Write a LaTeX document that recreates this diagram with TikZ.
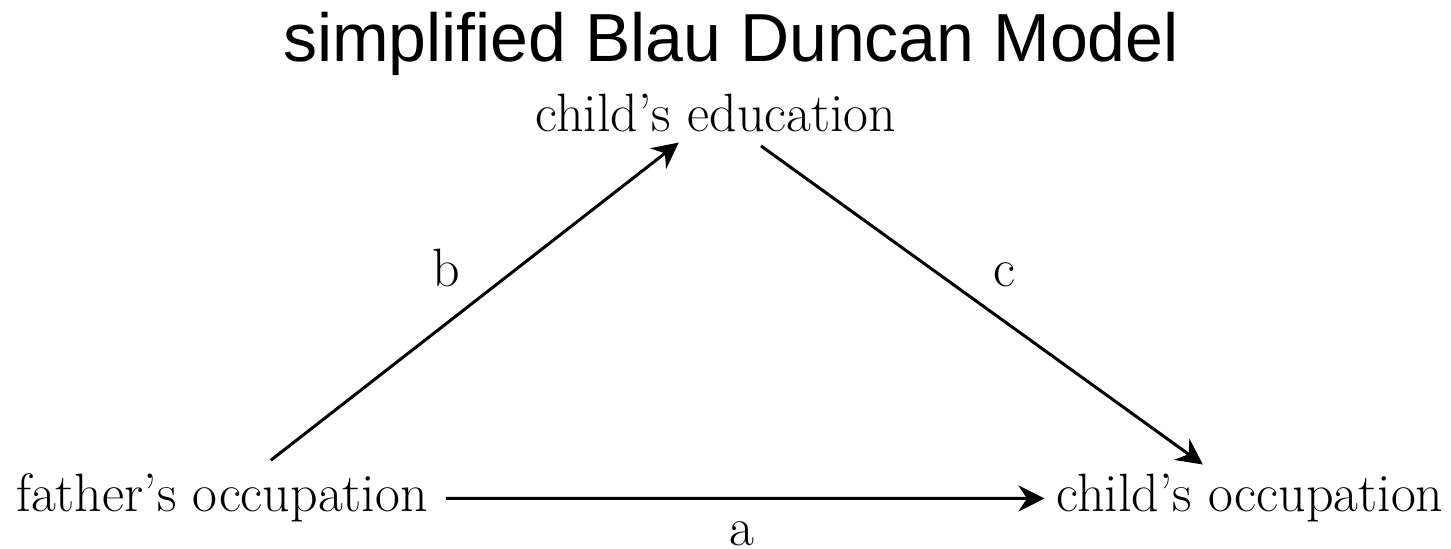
\documentclass[tikz,border=0pt]{standalone}
\usepackage{fontspec}
\newfontfamily\titlefont{Liberation Sans}
\usepackage{tikz}
\usetikzlibrary{arrows.meta}

\begin{document}
\begin{tikzpicture}[x=0.5pt,y=-0.5pt,
    var/.style={font=\fontsize{27}{32}\selectfont,anchor=base},
    path/.style={-{Stealth[length=13pt,width=13pt]},line width=1.5pt,shorten <=5.5pt,shorten >=2.5pt},
    coef/.style={font=\fontsize{27}{32}\selectfont}]
  \useasboundingbox (0,0) rectangle (1451,549);
  \node[font=\titlefont\fontsize{34}{40}\selectfont,anchor=base] (title) at (731,62) {simplified Blau Duncan Model};
  % the three variables
  \node[var] (father) at (222,512) {father's occupation};
  \node[var] (edu) at (716,132) {child's education};
  \node[var] (child) at (1250,512) {child's occupation};
  % paths
  \draw[path] (father) -- (edu) node[coef,midway,above left,xshift=-2pt,yshift=4pt] (b) {b};
  \draw[path] (edu) -- (child) node[coef,midway,above right,xshift=3pt,yshift=4pt] (c) {c};
  \draw[path] (father) -- (child) node[coef,midway,below,inner sep=0pt,yshift=-11pt] (a) {a};
\end{tikzpicture}
\end{document}
